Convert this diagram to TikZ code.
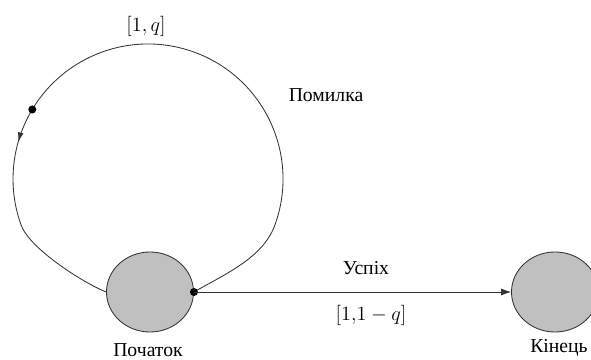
\documentclass[tikz,border=0pt]{standalone}
\usepackage{fontspec}
\setmainfont{Liberation Serif}
\usepackage{xcolor}
\usetikzlibrary{arrows.meta,calc,shapes.geometric,decorations.markings}
\definecolor{stategray}{RGB}{192,192,192}
\tikzset{
  state/.style={draw=black!80,fill=stategray,ellipse,line width=0.6pt,
    minimum width=2.175cm,minimum height=2cm,inner sep=0pt},
  dotnode/.style={circle,fill=black,minimum size=0.2cm,inner sep=0pt},
  conn/.style={draw=black!80,line width=0.6pt},
}

\begin{document}
\begin{tikzpicture}[x=0.025cm,y=0.025cm,every node/.style={font=\fontsize{14}{16}\selectfont}]
  \useasboundingbox (0,0) rectangle (591,360);
  % states
  \node[state] (start) at (150,68) {};
  \node[state] (end) at (555,68) {};
  \node (startlbl) at (148,10) {Початок};
  \node (endlbl) at (559,12) {Кінець};
  % loop on the start state
  \coordinate (loopC) at (148,181);
  \coordinate (loopR) at ($(loopC)+(-20:135)$);
  \draw[conn,postaction={decorate},
    decoration={markings,mark=at position 0.736 with {\arrow{Latex[length=7pt,width=4pt]}}}]
    (start.east) .. controls +(30:35) and +(250:35) .. (loopR)
    arc[start angle=-20,end angle=200,radius=135]
    .. controls +(290:25) and +(158:25) .. (start.west);
  \node[dotnode] (loopdot) at ($(loopC)+(149:135)$) {};
  \node (looplbl) at (146,334) {$[1,q]$};
  \node (faillbl) at (326,265) {Помилка};
  % transition to the end state
  \node[dotnode] (startdot) at (start.east) {};
  \draw[conn,-{Latex[length=7pt,width=5pt]}] (startdot.center) -- (end.west);
  \node (oklbl) at (366,92) {Успіх};
  \node (okval) at (371,45) {$[1{,}1-q]$};
\end{tikzpicture}
\end{document}
